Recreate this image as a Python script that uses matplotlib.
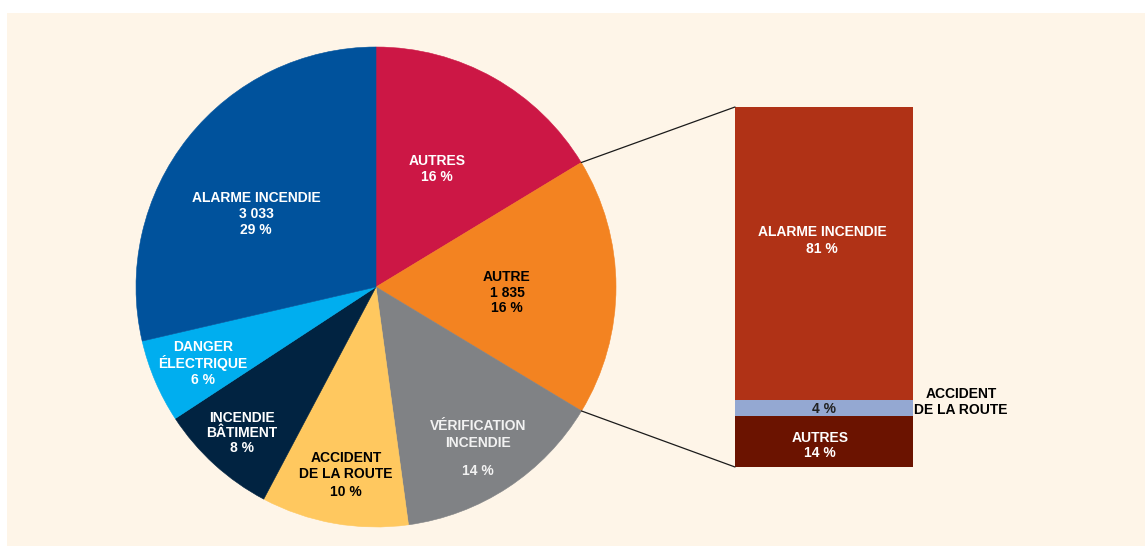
import matplotlib.pyplot as plt
from matplotlib.patches import Rectangle, ConnectionPatch
import numpy as np

# pie: interventions by type (counts; AUTRE and ALARME given)
pie_names = ["AUTRES", "AUTRE", "VÉRIFICATION INCENDIE", "ACCIDENT DE LA ROUTE",
             "INCENDIE BÂTIMENT", "DANGER ÉLECTRIQUE", "ALARME INCENDIE"]
pie_counts = [1730, 1835, 1505, 1050, 850, 595, 3033]
pie_pcts = [16, 16, 14, 10, 8, 6, 29]
pie_colors = ["#CC1745", "#F38321", "#808285", "#FFC85F", "#012341", "#00AEEF", "#00529C"]

# breakdown of the "AUTRE" slice (stacked bar, bottom to top)
bar_names = ["AUTRES", "ACCIDENT DE LA ROUTE", "ALARME INCENDIE"]
bar_shares = [14.2, 4.4, 81.4]
bar_pcts = [14, 4, 81]
bar_colors = ["#6B1300", "#94A8D2", "#B03216"]

W, H = 1145, 546
BG = "#FEF5E8"

fig = plt.figure(figsize=(W / 100, H / 100), dpi=100, facecolor="white")
fig.patches.append(Rectangle((7 / W, 0), 1 - 7 / W, 1 - 13 / H, transform=fig.transFigure,
                             facecolor=BG, edgecolor="none", zorder=-10))

# pie, centre (376, 287) px, radius 240 px
cx, cy, r = 376, 287, 240
ax = fig.add_axes([(cx - r) / W, (H - cy - r) / H, 2 * r / W, 2 * r / H])
wedges, _ = ax.pie(pie_counts, colors=pie_colors, startangle=90, counterclock=False,
                   radius=1, wedgeprops=dict(linewidth=0.4))
for w, c in zip(wedges, pie_colors):
    w.set_edgecolor(c)
ax.set_xlim(-1, 1)
ax.set_ylim(-1, 1)
ax.set_aspect("equal")
ax.axis("off")

font = dict(family=["Liberation Sans", "DejaVu Sans"], fontweight="bold", fontsize=10,
            ha="center", va="baseline")


def label(x, ys, lines, color):
    # one text per line so accented capitals don't push the spacing around
    for y, t in zip(ys, lines):
        fig.text(x / W, 1 - (y + 5) / H, t, color=color, **font)


fmt = lambda n: f"{n:,}".replace(",", " ")

label(437, [160, 176], [pie_names[0], f"{pie_pcts[0]} %"], "white")
label(507, [276, 292, 307], [pie_names[1], fmt(pie_counts[1]), f"{pie_pcts[1]} %"], "black")
label(478, [425, 442, 470], ["VÉRIFICATION", "INCENDIE", f"{pie_pcts[2]} %"], "#F2F2F2")
label(346, [457, 473, 491], ["ACCIDENT", "DE LA ROUTE", f"{pie_pcts[3]} %"], "black")
label(242, [417, 432, 447], ["INCENDIE", "BÂTIMENT", f"{pie_pcts[4]} %"], "white")
label(203, [346, 363, 379], ["DANGER", "ÉLECTRIQUE", f"{pie_pcts[5]} %"], "white")
label(256, [197, 213, 229], [pie_names[6], fmt(pie_counts[6]), f"{pie_pcts[6]} %"], "white")

# stacked bar
bx0, bx1, by0, by1 = 735, 913, 107, 467
bax = fig.add_axes([bx0 / W, (H - by1) / H, (bx1 - bx0) / W, (by1 - by0) / H])
bottom = 0
for s, c in zip(bar_shares, bar_colors):
    bax.bar(0, s, bottom=bottom, width=1, color=c, linewidth=0)
    bottom += s
bax.set_xlim(-0.5, 0.5)
bax.set_ylim(0, sum(bar_shares))
bax.axis("off")

label(822, [231, 248], [bar_names[2], f"{bar_pcts[2]} %"], "white")
label(824, [408], [f"{bar_pcts[1]} %"], "#222222")
label(820, [437, 452], [bar_names[0], f"{bar_pcts[0]} %"], "white")
label(961, [393, 409], ["ACCIDENT", "DE LA ROUTE"], "black")

# connector lines from the AUTRE wedge to the bar
wa = wedges[1]
for ang, yb in [(wa.theta2, sum(bar_shares)), (wa.theta1, 0)]:
    a = np.deg2rad(ang)
    con = ConnectionPatch(xyA=(np.cos(a), np.sin(a)), coordsA=ax.transData,
                          xyB=(-0.5, yb), coordsB=bax.transData,
                          color="#1a1a1a", linewidth=0.9)
    fig.add_artist(con)

fig.savefig("out.png", dpi=100, facecolor=fig.get_facecolor())
